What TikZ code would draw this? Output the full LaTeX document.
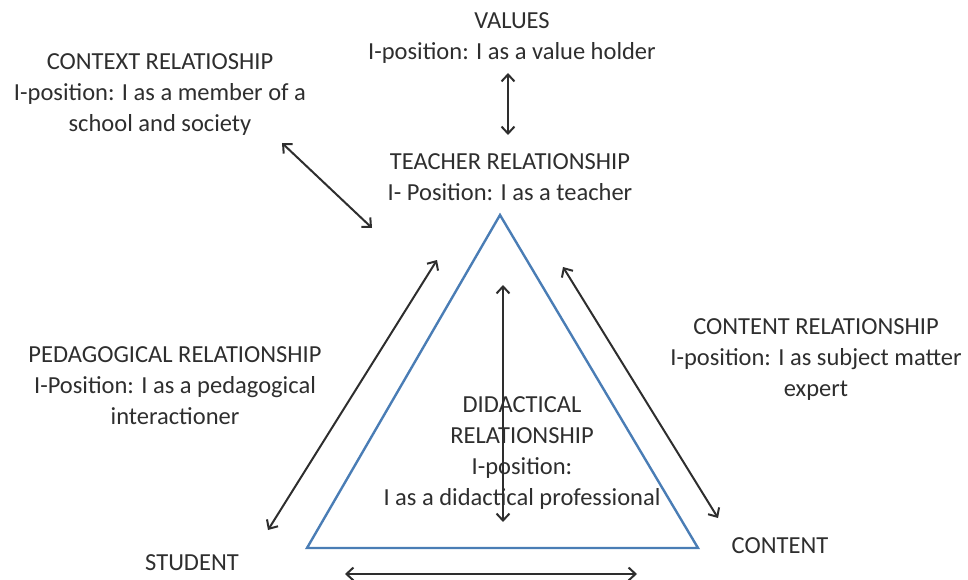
\documentclass[tikz,border=0pt]{standalone}
\usepackage{fontspec}
\setmainfont{Carlito}
\usetikzlibrary{arrows.meta}
\definecolor{txtgray}{HTML}{2E2E2E}
\definecolor{triblue}{HTML}{4A7DB5}
\tikzset{
  reltext/.style = {align=center, text=txtgray, font=\fontsize{24.5}{31}\selectfont, inner sep=0pt},
  arrow/.style = {line width=2pt, draw=txtgray, {Straight Barb[length=7pt,width=13pt]}-{Straight Barb[length=7pt,width=13pt]}}
}

\begin{document}
\begin{tikzpicture}[x=1pt,y=-1pt]
    \useasboundingbox (0,0) rectangle (968,580);

    % triangle corners
    \coordinate (top) at (500,215);
    \coordinate (left) at (307,548);
    \coordinate (right) at (698,548);
    \draw [triblue, line width=2.4pt, line join=miter] (top) -- (left) -- (right) -- cycle;

    % labels
    \node (values) [reltext] at (512,38) {VALUES\\I-position: I as a value holder};
    \node (context) [reltext] at (160,95) {CONTEXT RELATIOSHIP\\I-position: I as a member of a\\school and society};
    \node (teacher) [reltext] at (510,177) {TEACHER RELATIONSHIP\\I- Position: I as a teacher};
    \node (content rel) [reltext] at (816,360) {CONTENT RELATIONSHIP\\I-position: I as subject matter\\expert};
    \node (pedagogical) [reltext] at (175,386) {PEDAGOGICAL RELATIONSHIP\\I-Position: I as a pedagogical\\interactioner};
    \node (didactical) [reltext] at (522,453) {DIDACTICAL\\RELATIONSHIP\\I-position:\\I as a didactical professional};
    \node (student) [reltext] at (192,563) {STUDENT};
    \node (content) [reltext] at (780,546) {CONTENT};

    % arrow ends
    \coordinate (v1) at (508,73);   \coordinate (v2) at (508,135);
    \coordinate (c1) at (282,143);  \coordinate (c2) at (372,228);
    \coordinate (p1) at (437,260);  \coordinate (p2) at (268,530);
    \coordinate (d1) at (503,285);  \coordinate (d2) at (503,522);
    \coordinate (k1) at (563,267);  \coordinate (k2) at (718,518);
    \coordinate (b1) at (345,574);  \coordinate (b2) at (637,574);

    \draw [arrow] (v1) -- (v2);
    \draw [arrow] (c1) -- (c2);
    \draw [arrow] (p1) -- (p2);
    \draw [arrow] (d1) -- (d2);
    \draw [arrow] (k1) -- (k2);
    \draw [arrow] (b1) -- (b2);
\end{tikzpicture}
\end{document}
